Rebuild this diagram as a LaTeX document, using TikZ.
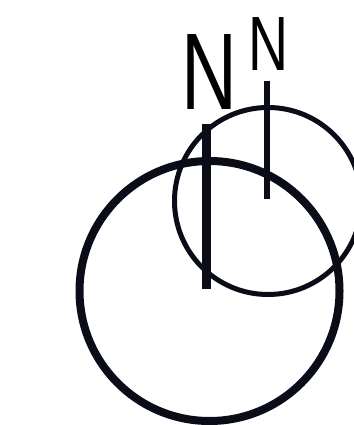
\documentclass[tikz,border=0pt]{standalone}
\usepackage{fontspec}
\setmainfont{Liberation Sans}
\definecolor{ink}{RGB}{10,12,24}
\begin{document}
\begin{tikzpicture}[x=1pt,y=-1pt,
  ring/.style={circle,draw=ink,inner sep=0pt,outer sep=0pt},
  stem/.style={draw=ink,line cap=butt},
  lbl/.style={inner sep=0pt,outer sep=0pt,text=black}]
\useasboundingbox (0,0) rectangle (353,425);
\node[ring,line width=5pt,minimum size=187pt] (small) at (268,201) {};
\node[ring,line width=8pt,minimum size=260pt] (big) at (209.5,291) {};
\coordinate (b1) at (206.5,124);
\coordinate (b2) at (206.5,289);
\coordinate (s1) at (266.5,81);
\coordinate (s2) at (266.5,199);
\draw[stem,line width=8.5pt] (b1) -- (b2);
\draw[stem,line width=6pt] (s1) -- (s2);
\node[lbl,font=\fontsize{109}{109}\selectfont] (nbig) at (209,72) {\scalebox{0.71}[1]{N}};
\node[lbl,font=\fontsize{77}{77}\selectfont] (nsmall) at (269,44.5) {\scalebox{0.72}[1]{N}};
\end{tikzpicture}
\end{document}
